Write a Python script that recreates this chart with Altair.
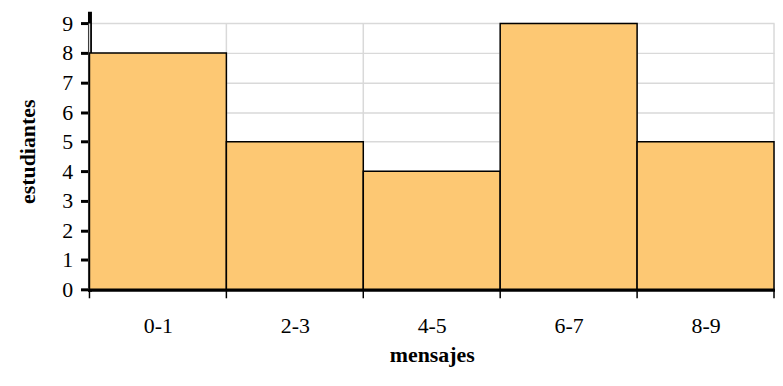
import altair as alt
import pandas as pd

categories = ["0-1", "2-3", "4-5", "6-7", "8-9"]
starts = [0, 2, 4, 6, 8]
ends = [2, 4, 6, 8, 10]
counts = [8, 5, 4, 9, 5]
boundaries = [0, 2, 4, 6, 8, 10]
label_positions = [1, 3, 5, 7, 9]
y_ticks = list(range(0, 10))

bars_df = pd.DataFrame({"cat": categories, "x0": starts, "x1": ends, "n": counts})
grid_df = pd.DataFrame({"b": boundaries})

FONT = "Liberation Serif"
W, H = 689, 278
xscale = alt.Scale(domain=[0, 10], nice=False, zero=False)
yscale = alt.Scale(domain=[0, 9.35], nice=False)

label_expr = "['0-1','2-3','4-5','6-7','8-9'][floor(datum.value/2)]"

xaxis = alt.Axis(values=label_positions, labelExpr=label_expr,
                 ticks=False, grid=False, labelPadding=26, titlePadding=9)
yaxis = alt.Axis(values=y_ticks, grid=True, tickColor="black", tickWidth=3,
                 tickSize=9, labelPadding=8, titlePadding=22)

vgrid = alt.Chart(grid_df).mark_rule(color="#d9d9d9", strokeWidth=1.5).encode(
    x=alt.X("b:Q", scale=xscale, axis=xaxis, title="mensajes"),
    y=alt.datum(0, scale=yscale, axis=yaxis, title="estudiantes"),
    y2=alt.datum(9),
)

bars = alt.Chart(bars_df).mark_rect(
    color="#fdc873", stroke="black", strokeWidth=1.5
).encode(
    x=alt.X("x0:Q", scale=xscale, title="mensajes", axis=xaxis),
    x2="x1:Q",
    y=alt.Y("n:Q", scale=yscale, title="estudiantes", axis=yaxis),
)

xticks = alt.Chart(grid_df).mark_rule(color="black", strokeWidth=1.5).encode(
    x=alt.X("b:Q", scale=xscale, axis=xaxis, title="mensajes"),
    y=alt.value(H),
    y2=alt.value(H + 9),
)

chart = alt.layer(vgrid, bars, xticks).properties(
    width=W, height=H,
    padding={"left": 9, "right": 0, "top": 3, "bottom": 0},
).configure_view(stroke=None).configure_axis(
    domainCap="square", domainColor="black", domainWidth=4,
    gridColor="#d9d9d9", gridWidth=1.5,
    labelFont=FONT, labelFontSize=22, labelColor="black",
    titleFont=FONT, titleFontSize=22, titleFontWeight="bold", titleColor="black",
)

chart.save("out.html", embed_options={"renderer": "svg", "actions": False})
